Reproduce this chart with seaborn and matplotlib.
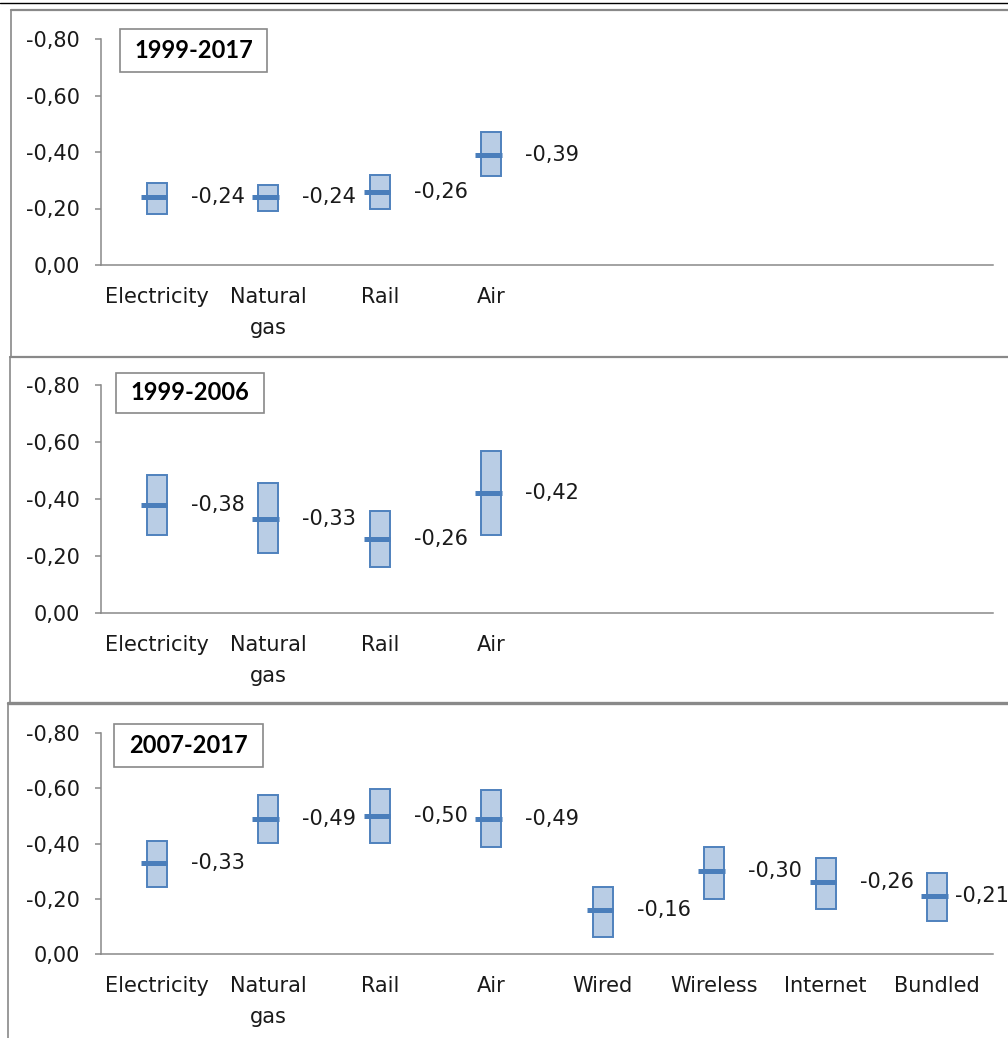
import matplotlib
matplotlib.use("Agg")
import matplotlib.pyplot as plt
from matplotlib.lines import Line2D
from matplotlib.patches import Rectangle
import numpy as np
import pandas as pd
import seaborn as sns

# ---- data -------------------------------------------------------------
categories = ["Electricity", "Natural\ngas", "Rail", "Air",
              "Wired", "Wireless", "Internet", "Bundled"]
periods = ["1999-2017", "1999-2006", "2007-2017"]

# 1999-2017
p1_low = [-0.18, -0.19, -0.20, -0.315]
p1_mid = [-0.24, -0.24, -0.26, -0.39]
p1_high = [-0.29, -0.283, -0.32, -0.47]

# 1999-2006
p2_low = [-0.274, -0.21, -0.161, -0.274]
p2_mid = [-0.38, -0.33, -0.26, -0.42]
p2_high = [-0.484, -0.456, -0.358, -0.568]

# 2007-2017
p3_low = [-0.243, -0.402, -0.402, -0.388, -0.062, -0.199, -0.163, -0.12]
p3_mid = [-0.33, -0.49, -0.50, -0.49, -0.16, -0.30, -0.26, -0.21]
p3_high = [-0.41, -0.576, -0.598, -0.594, -0.243, -0.388, -0.348, -0.293]

y_ticks = [0.0, -0.2, -0.4, -0.6, -0.8]

panels = [
    (periods[0], p1_low, p1_mid, p1_high),
    (periods[1], p2_low, p2_mid, p2_high),
    (periods[2], p3_low, p3_mid, p3_high),
]

# ---- style ------------------------------------------------------------
sns.set_theme(style="white")
plt.rcParams["font.family"] = ["DejaVu Sans"]

W, H = 1008, 1038
fig = plt.figure(figsize=(W / 100, H / 100), dpi=100)
fig.patch.set_facecolor("white")

GRAY = "#898989"
FILL = "#b9cde5"
EDGE = "#4f81bd"
MED = "#4a7ebb"
TICK_FS = 15


def fx(px):
    return px / W


def fy(py):
    return 1 - py / H


def comma(v):
    return f"{v:.2f}".replace(".", ",")


# axes placement in pixels: (left, right, top, bottom)
ax_boxes = [(101, 993, 39, 265), (101, 993, 385, 613), (101, 993, 733, 954)]
# framed period title boxes in pixels: (left, right, top, bottom)
title_boxes = [(120, 267, 29, 72), (116, 264, 373, 413), (114, 263, 724, 767)]

for (title, low, mid, high), (l, r, t, b), (tl, tr, tt, tb) in zip(
        panels, ax_boxes, title_boxes):
    ax = fig.add_axes([fx(l), fy(b), (r - l) / W, (b - t) / H])
    n = len(mid)
    cats = categories[:n]

    # five points per category so the quartiles fall on low / high
    rows = []
    for c, lo, md, hi in zip(cats, low, mid, high):
        for v in (lo, lo, md, hi, hi):
            rows.append({"category": c, "value": v})
    df = pd.DataFrame(rows)

    sns.boxplot(data=df, x="category", y="value", order=categories,
                ax=ax, width=0.18, whis=0, showcaps=False, showfliers=False,
                color=FILL, saturation=1, linecolor=EDGE, linewidth=1.4,
                medianprops={"visible": False},
                whiskerprops={"visible": False})

    # median marker and value label
    for i, md in enumerate(mid):
        ax.hlines(md, i - 0.145, i + 0.092, color=MED, linewidth=3.6,
                  zorder=5)
        lx = min(i + 0.305, 7.16)
        ax.text(lx, md, comma(md), ha="left", va="center",
                fontsize=TICK_FS, color="#1a1a1a")

    ax.set_xlim(-0.5, 7.5)
    ax.set_ylim(0, -0.8)
    ax.set_xlabel("")
    ax.set_ylabel("")

    ax.set_yticks(y_ticks)
    ax.set_yticklabels([comma(v) for v in y_ticks], fontsize=TICK_FS,
                       color="#1a1a1a")
    ax.set_xticks(range(len(categories)))
    shown = cats + [""] * (len(categories) - n)
    ax.set_xticklabels(shown, fontsize=TICK_FS, color="#1a1a1a",
                       linespacing=1.65)
    ax.set_xticks(np.arange(-0.5, len(categories), 1.0), minor=True)

    ax.tick_params(axis="x", which="major", length=0, pad=16)
    ax.tick_params(axis="x", which="minor", length=6, width=1.1,
                   color=GRAY, direction="in")
    ax.tick_params(axis="y", which="major", length=4, width=1.1,
                   color=GRAY, direction="out", pad=11, left=True)

    for s in ("top", "right"):
        ax.spines[s].set_visible(False)
    for s in ("left", "bottom"):
        ax.spines[s].set_color(GRAY)
        ax.spines[s].set_linewidth(1.1)
    ax.grid(False)
    ax.set_facecolor("none")

    # framed period title
    fig.add_artist(Rectangle((fx(tl), fy(tb)), (tr - tl) / W, (tb - tt) / H,
                             transform=fig.transFigure, facecolor="white",
                             edgecolor=GRAY, linewidth=1.2, zorder=6))
    fig.text(fx((tl + tr) / 2), fy((tt + tb) / 2), title,
             ha="center", va="center", fontsize=17, fontweight="bold",
             family=["Lato", "DejaVu Sans"], color="black", zorder=7)

# ---- chart-area frames --------------------------------------------------
def hline(y, x0, x1, color=GRAY, lw=1.2):
    fig.add_artist(Line2D([fx(x0), fx(x1)], [fy(y), fy(y)],
                          transform=fig.transFigure, color=color,
                          linewidth=lw))


def vline(x, y0, y1, color=GRAY, lw=1.2):
    fig.add_artist(Line2D([fx(x), fx(x)], [fy(y0), fy(y1)],
                          transform=fig.transFigure, color=color,
                          linewidth=lw))


hline(3, 0, W, color="black", lw=1.0)
hline(10, 11, W, lw=1.6)
vline(11, 10, 357)
hline(357, 10, W, lw=1.6)
vline(10, 357, 703)
hline(703, 8, W, lw=2.4)
vline(8, 703, H)

fig.savefig("out.png", dpi=100, facecolor="white")
